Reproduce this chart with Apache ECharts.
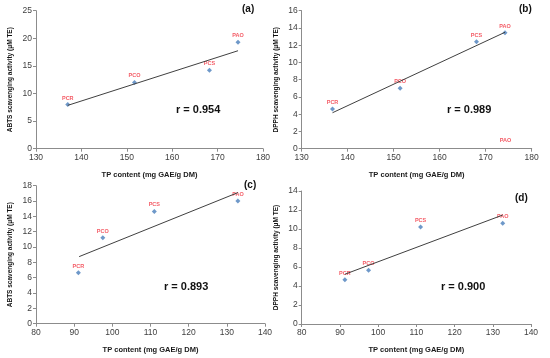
<!DOCTYPE html>
<html><head><meta charset="utf-8">
<script src="https://cdn.jsdelivr.net/npm/echarts@6/dist/echarts.min.js"></script>
<style>html,body{margin:0;padding:0;background:#fff}#c{width:550px;height:358px}</style>
</head><body><div id="c"></div>
<script>
// ---- data ----
const samples = ['PCR', 'PCO', 'PCS', 'PAO'];
// panel (a): ABTS vs TP (first TP set)
const tpA = [137.0, 151.7, 168.2, 174.5];
const abtsA = [8.0, 12.0, 14.2, 19.3];
const trendA = [[137.0, 7.85], [174.5, 17.75]];
const rA = 'r = 0.954';
// panel (b): DPPH vs TP (first TP set)
const tpB = [136.7, 151.4, 168.0, 174.2];
const dpphB = [4.6, 7.0, 12.4, 13.45];
const trendB = [[136.7, 4.17], [174.2, 13.5]];
const strayB = [[174.3, 0.9]]; // stray "PAO" label in panel (b)
const rB = 'r = 0.989';
// panel (c): ABTS vs TP (second TP set)
const tpC = [91.1, 97.5, 111.0, 132.9];
const abtsC = [6.65, 11.2, 14.65, 16.0];
const trendC = [[91.3, 8.75], [132.9, 17.1]];
const rC = 'r = 0.893';
// panel (d): DPPH vs TP (second TP set)
const tpD = [91.3, 97.5, 111.1, 132.6];
const dpphD = [4.65, 5.67, 10.2, 10.6];
const trendD = [[91.3, 5.24], [132.6, 11.47]];
const rD = 'r = 0.900';
// axes
const xTicksTop = {min: 130, max: 180, interval: 10};
const xTicksBot = {min: 80, max: 140, interval: 10};
const yA = {min: 0, max: 25, interval: 5};
const yB = {min: 0, max: 16, interval: 2};
const yC = {min: 0, max: 18, interval: 2};
const yD = {min: 0, max: 14, interval: 2};
const xTitle = 'TP content (mg GAE/g DM)';
const yTitleABTS = 'ABTS scavenging activity (\u03bcM TE)';
const yTitleDPPH = 'DPPH scavenging activity (\u03bcM TE)';
const panelTags = ['(a)', '(b)', '(c)', '(d)'];

// ---- build chart ----
const FONT = 'Liberation Sans';
const axisCol = '#8c8c8c';
const grids = [
  {left: 36, top: 10.7, width: 227, height: 138},
  {left: 301.7, top: 10.7, width: 230, height: 138},
  {left: 36, top: 185.7, width: 229, height: 138},
  {left: 301.7, top: 191, width: 229.3, height: 133}
];
function xAx(i, t) {
  return {gridIndex: i, type: 'value', min: t.min, max: t.max, interval: t.interval,
    name: xTitle, nameLocation: 'middle', nameGap: 22,
    nameTextStyle: {fontFamily: FONT, fontSize: 7.5, fontWeight: 'bold', color: '#1a1a1a'},
    axisLine: {lineStyle: {color: axisCol, width: 1}},
    axisTick: {show: true, length: 3, lineStyle: {color: axisCol}},
    axisLabel: {fontFamily: FONT, fontSize: 8.5, color: '#404040', margin: 4},
    splitLine: {show: false}};
}
function yAx(i, t, title) {
  return {gridIndex: i, type: 'value', min: t.min, max: t.max, interval: t.interval,
    name: title, nameLocation: 'middle', nameGap: 22, nameRotate: 90,
    nameTextStyle: {fontFamily: FONT, fontSize: 6.5, fontWeight: 'bold', color: '#111'},
    axisLine: {show: true, lineStyle: {color: axisCol, width: 1}},
    axisTick: {show: true, length: 3, lineStyle: {color: axisCol}},
    axisLabel: {fontFamily: FONT, fontSize: 8.5, color: '#404040', margin: 4},
    splitLine: {show: false}};
}
function pts(xs, ys) { return xs.map((x, k) => ({name: samples[k], value: [x, ys[k]]})); }
function scat(i, xs, ys) {
  return {type: 'scatter', xAxisIndex: i, yAxisIndex: i, symbol: 'diamond', symbolSize: 5,
    itemStyle: {color: '#4a7ebb'}, data: pts(xs, ys),
    label: {show: true, position: 'top', distance: 1, formatter: p => p.name,
      fontFamily: FONT, fontSize: 5.5, fontWeight: 'bold', color: '#f0303c'}};
}
function trend(i, d) {
  return {type: 'line', xAxisIndex: i, yAxisIndex: i, data: d, symbol: 'none',
    lineStyle: {color: '#404040', width: 1}, silent: true};
}
const txt = (l, t, s, size) => ({type: 'text', left: l, top: t,
  style: {text: s, fontFamily: FONT, fontSize: size, fontWeight: 'bold', fill: '#111'}});

const option = {
  animation: false,
  backgroundColor: '#fff',
  grid: grids,
  xAxis: [xAx(0, xTicksTop), xAx(1, xTicksTop), xAx(2, xTicksBot), xAx(3, xTicksBot)],
  yAxis: [yAx(0, yA, yTitleABTS), yAx(1, yB, yTitleDPPH), yAx(2, yC, yTitleABTS), yAx(3, yD, yTitleDPPH)],
  series: [
    trend(0, trendA), scat(0, tpA, abtsA),
    trend(1, trendB), scat(1, tpB, dpphB),
    {type: 'scatter', xAxisIndex: 1, yAxisIndex: 1, symbolSize: 0, data: strayB.map(v => ({name: 'PAO', value: v})),
      label: {show: true, position: 'inside', formatter: p => p.name, fontFamily: FONT, fontSize: 5.5, fontWeight: 'bold', color: '#f0303c'}},
    trend(2, trendC), scat(2, tpC, abtsC),
    trend(3, trendD), scat(3, tpD, dpphD)
  ],
  graphic: [
    txt(242, 4, panelTags[0], 10), txt(519, 4, panelTags[1], 10),
    txt(244, 180, panelTags[2], 10), txt(515, 193, panelTags[3], 10),
    txt(176, 104, rA, 11), txt(447, 104, rB, 11),
    txt(164, 281, rC, 11), txt(441, 281, rD, 11)
  ]
};
const chart = echarts.init(document.getElementById('c'), null, {renderer: 'canvas'});
chart.setOption(option);
</script></body></html>
